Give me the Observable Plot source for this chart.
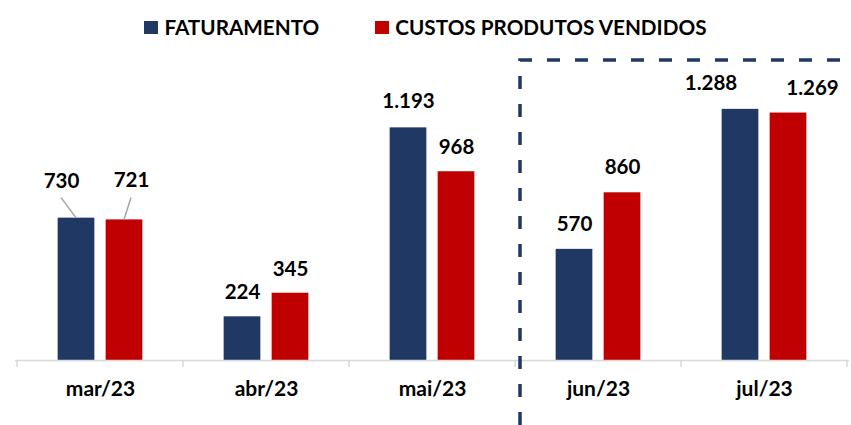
<!DOCTYPE html>
<html>
<head>
<meta charset="utf-8">
<script src="https://cdn.jsdelivr.net/npm/d3@7"></script>
<script src="https://cdn.jsdelivr.net/npm/@observablehq/plot@0.6"></script>
<style>
  html, body { margin: 0; padding: 0; background: #fff; }
  #wrap { position: relative; width: 851px; height: 425px; font-family: Lato, "Open Sans", sans-serif; }
  #legend { height: 50px; display: flex; justify-content: center; align-items: flex-start; box-sizing: border-box; padding-left: 0; }
  .item { display: flex; align-items: center; margin: 0 28px; height: 14px; margin-top: 20px; }
  .sw { width: 14px; height: 13px; margin-right: 6px; }
  .lab { font-weight: 700; font-size: 20.7px; color: #000; line-height: 14px; }
</style>
</head>
<body>
<div id="wrap">
  <div id="legend"></div>
  <div id="chart"></div>
</div>
<script>
const months = ["mar/23", "abr/23", "mai/23", "jun/23", "jul/23"];
const seriesNames = ["FATURAMENTO", "CUSTOS PRODUTOS VENDIDOS"];
const seriesColors = ["#203864", "#C00000"];
const faturamento = [730, 224, 1193, 570, 1288];
const custos = [721, 345, 968, 860, 1269];
// label shifts (pixels) relative to the default spot above each bar: [dx, dy]
const labelShiftFat = [[-15, -37], [0, -24], [0, -26], [0, -25], [-29.5, -25.5]];
const labelShiftCus = [[7, -39], [0, -24], [0, -24], [0, -25], [24, -25]];
// leader lines for mar/23 labels: [dx, dy]
const leaderFat = [-15, -20];
const leaderCus = [7, -22];

const fmt = d3.formatLocale({decimal: ",", thousands: ".", grouping: [3], currency: ["R$", ""]}).format(",d");

// legend
const legend = document.getElementById("legend");
seriesNames.forEach((n, i) => {
  const it = document.createElement("div");
  it.className = "item";
  it.innerHTML = `<div class="sw" style="background:${seriesColors[i]}"></div><div class="lab">${n}</div>`;
  legend.appendChild(it);
});

const rows = [];
months.forEach((m, i) => {
  rows.push({month: m, series: seriesNames[0], value: faturamento[i], shift: labelShiftFat[i], idx: 0});
  rows.push({month: m, series: seriesNames[1], value: custos[i], shift: labelShiftCus[i], idx: 1});
});

const W = 851, H = 375;
const mL = 15, mR = 2;
const band = (W - mL - mR) / months.length;
const barW = 37.5, off = 24;
const insetNear = band / 2 - off - barW / 2;
const insetFar = band / 2 + off - barW / 2;

const labelMarks = rows.map(r => Plot.text([r], {
  x: "month", y: "value", text: d => fmt(d.value),
  dx: (r.idx === 0 ? -off : off) + r.shift[0],
  dy: r.shift[1],
  fontSize: 20.5, fontWeight: 700, fill: "#000", lineAnchor: "middle"
}));

const chart = Plot.plot({
  width: W, height: H,
  marginLeft: mL, marginRight: mR, marginTop: 17.5, marginBottom: 65,
  style: {fontFamily: "Lato, 'Open Sans', sans-serif", background: "#fff", overflow: "visible"},
  x: {domain: months, padding: 0, axis: null},
  y: {domain: [0, 1500], axis: null},
  marks: [
    Plot.barY(rows.filter(r => r.idx === 0), {x: "month", y: "value", fill: seriesColors[0], insetLeft: insetNear, insetRight: insetFar}),
    Plot.barY(rows.filter(r => r.idx === 1), {x: "month", y: "value", fill: seriesColors[1], insetLeft: insetFar, insetRight: insetNear}),
    Plot.ruleY([0], {stroke: "#d9d9d9", strokeWidth: 1.5}),
    Plot.axisX({tickSize: 0, tickPadding: 21, fontSize: 21, fontWeight: 700, fill: "#000", label: null}),
    ...labelMarks
  ]
});
document.getElementById("chart").appendChild(chart);

// decorations derived from the plot's scales
const xs = chart.scale("x"), ys = chart.scale("y");
const svg = d3.select(chart);
const y0 = ys.apply(0);
const bw = xs.bandwidth;
const edges = months.map(m => xs.apply(m)).concat([xs.apply(months[months.length - 1]) + bw]);
svg.append("g").selectAll("line").data(edges).join("line")
  .attr("x1", d => d).attr("x2", d => d).attr("y1", y0).attr("y2", y0 + 7)
  .attr("stroke", "#d9d9d9").attr("stroke-width", 1.5);

// leader lines for first month
const m0 = months[0];
const cFat = xs.apply(m0) + bw / 2 - off, cCus = xs.apply(m0) + bw / 2 + off;
const yFat = ys.apply(faturamento[0]), yCus = ys.apply(custos[0]);
svg.append("line").attr("x1", cFat).attr("y1", yFat).attr("x2", cFat + leaderFat[0]).attr("y2", yFat + leaderFat[1])
  .attr("stroke", "#a6a6a6").attr("stroke-width", 1.5);
svg.append("line").attr("x1", cCus).attr("y1", yCus).attr("x2", cCus + leaderCus[0]).attr("y2", yCus + leaderCus[1])
  .attr("stroke", "#a6a6a6").attr("stroke-width", 1.5);

// dashed highlight box around the last two months
const bx = xs.apply("jun/23") + 5;
const by = 10;
svg.append("path")
  .attr("d", `M${bx},${H} L${bx},${by} L${W + 2},${by}`)
  .attr("fill", "none").attr("stroke", "#203864").attr("stroke-width", 3.5)
  .attr("stroke-dasharray", "13,15");
</script>
</body>
</html>
